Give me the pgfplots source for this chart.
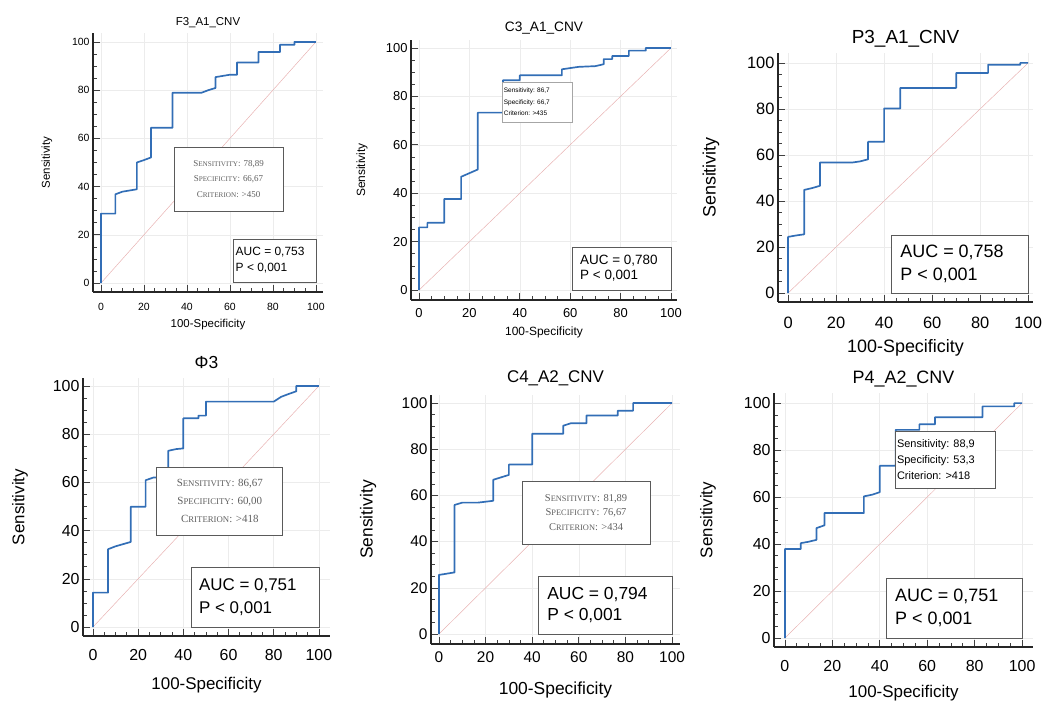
\documentclass[border=0pt]{standalone}
\usepackage{fontspec}
\setmainfont{Liberation Sans}
\newfontfamily\serif{Liberation Serif}
\usepackage{graphicx}
\usepackage{pgfplots}
\pgfplotsset{compat=1.18}
\definecolor{rocblue}{RGB}{50,110,182}
\definecolor{diagpink}{RGB}{232,178,178}
\definecolor{boxgray}{RGB}{90,90,90}
\newcommand\fsc[2]{#1\scalebox{0.8}{#2}}
\newcommand\fs[2]{\fontsize{#1}{#2}\selectfont}

\pgfplotsset{
  roc/.style={
    anchor=south west, scale only axis, clip=false,
    axis x line*=bottom, axis y line*=left,
    xtick={0,20,...,100}, ytick={0,20,...,100},
    minor tick num=3, tick align=inside,
    major tick length=7bp, minor tick length=4bp,
    grid=major, major grid style={gray!15, line width=0.6pt},
    axis line style={black!85, line width=1.2pt},
    tick style={black!75, line width=0.7pt},
    /pgf/number format/assume math mode=true,
    xlabel={100-Specificity}, ylabel={Sensitivity},
    title style={anchor=center, yshift=-6pt},
    xlabel style={anchor=center},
    ylabel style={anchor=center},
  },
  lbl/.style n args={3}{
    title style={at={(axis description cs:0.5,#1)}},
    xlabel style={at={(axis description cs:0.5,#2)}},
    ylabel style={at={(axis description cs:#3,0.5)}},
  },
  fnt/.style n args={3}{
    tick label style={font=\fs{#1}{#1}},
    label style={font=\fs{#2}{#2}},
    title style={font=\fs{#3}{#3}},
  },
  curve/.style={rocblue, line width=1.7pt, line join=round},
  diag/.style={diagpink, line width=0.5pt},
}
\tikzset{
  bx/.style={boxgray, line width=0.8pt, fill=white},
  crit/.style={gray!75!black, align=center, inner sep=0pt},
}

\begin{document}
\begin{tikzpicture}
\path[use as bounding box] (0,0) rectangle (1043bp,702bp);

% F3_A1_CNV
\begin{axis}[roc, at={(93bp,410bp)}, width=230bp, height=259bp,
  xmin=-3.7, xmax=103.3, ymin=-3.7, ymax=103.7,
  fnt={10.5}{11.5}{11.5}, lbl={1.039}{-0.127}{-0.2},
  xticklabel style={yshift=-8bp},
  title={F3\_A1\_CNV}]
\addplot[diag] coordinates {(0,0) (100,100)};
\addplot[curve] coordinates {(0,0)(0,28.8)(6.7,28.8)(6.7,36.8)(10,37.9)(16.7,38.9)(16.7,50)(20,51)(23.3,52.1)(23.3,64.4)(33.3,64.4)(33.3,78.9)(46.7,78.9)(50,80)(53.3,80.9)(53.3,85.4)(60,86.4)(63.3,86.4)(63.3,91.5)(73.3,91.5)(73.3,95.8)(83.3,95.8)(83.3,98.8)(90,98.8)(90,100)(100,100)};
\draw[bx] (axis cs:34,29.9) rectangle (axis cs:84.7,56.4);
\node[crit, font=\serif\fs{9}{15.5}] at (axis cs:59.35,43.15)
  {\fsc{S}{ENSITIVITY}: 78,89\\ \fsc{S}{PECIFICITY}: 66,67\\ \fsc{C}{RITERION}: >450};
\draw[bx] (axis cs:61.4,0.4) rectangle (axis cs:100,18.3);
\node[anchor=west, align=left, inner sep=0pt, font=\fs{12}{15.7}] at (axis cs:62.6,9.4)
  {AUC = 0,753\\P < 0,001};
\end{axis}

% C3_A1_CNV
\begin{axis}[roc, at={(411bp,402bp)}, width=266bp, height=260bp,
  xmin=-3.2, xmax=102.4, ymin=-4.1, ymax=103.3,
  fnt={13}{12}{13.7}, lbl={1.046}{-0.123}{-0.184},
  xticklabel style={yshift=-5bp},
  title={C3\_A1\_CNV}]
\addplot[diag] coordinates {(0,0) (100,100)};
\addplot[curve] coordinates {(0,0)(0,25.9)(3.3,25.9)(3.3,27.8)(10,27.8)(10,37.6)(16.7,37.6)(16.7,46.8)(23.3,49.8)(23.3,73.3)(33.3,73.3)(33.3,86.7)(40,86.7)(40,88.7)(56.7,88.7)(56.7,91.2)(63.3,92.2)(70,92.5)(73.3,93.3)(73.3,95.4)(76.7,95.4)(76.7,96.7)(83.3,96.7)(83.3,98.9)(90,98.9)(90,100)(100,100)};
\draw[bx, line width=0.5pt, draw=gray!70] (axis cs:33,69.4) rectangle (axis cs:61,86);
\node[anchor=west, align=left, inner sep=0pt, font=\fs{6.5}{11.7}] at (axis cs:33.6,77.7)
  {Sensitivity: 86,7\\Specificity: 66,7\\Criterion: >435};
\draw[bx] (axis cs:61,0) rectangle (axis cs:100,17.8);
\node[anchor=west, align=left, inner sep=0pt, font=\fs{13.5}{15}] at (axis cs:63.9,8.9)
  {AUC = 0,780\\P < 0,001};
\end{axis}

% P3_A1_CNV
\begin{axis}[roc, at={(778bp,400bp)}, width=255bp, height=249bp,
  xmin=-4.2, xmax=102, ymin=-3.9, ymax=104.3,
  fnt={16.5}{18}{19}, lbl={1.056}{-0.185}{-0.263},
  xticklabel style={yshift=-12bp},
  title={P3\_A1\_CNV}]
\addplot[diag] coordinates {(0,0) (100,100)};
\addplot[curve] coordinates {(0,0)(0,24.4)(3.3,25)(6.7,25.5)(6.7,44.8)(10,45.6)(13.3,46.6)(13.3,56.7)(26.7,56.7)(30,57.2)(33.3,58.1)(33.3,65.7)(40,65.7)(40,80.2)(46.7,80.2)(46.7,89.1)(70,89.1)(70,95.6)(83.3,95.6)(83.3,99.2)(96.7,99.2)(96.7,100)(100,100)};
\draw[bx] (axis cs:43,0) rectangle (axis cs:100,25.2);
\node[anchor=west, align=left, inner sep=0pt, font=\fs{18}{22.7}] at (axis cs:46.7,12.6)
  {AUC = 0,758\\P < 0,001};
\end{axis}

% Phi3
\begin{axis}[roc, at={(83bp,66bp)}, width=247bp, height=258bp,
  xmin=-4.4, xmax=104.9, ymin=-3.7, ymax=103.3,
  fnt={16}{17}{17.5}, lbl={1.062}{-0.19}{-0.255},
  xticklabel style={yshift=-10bp},
  title={Φ3}]
\addplot[diag] coordinates {(0,0) (100,100)};
\addplot[curve] coordinates {(0,0)(0,14.3)(6.7,14.3)(6.7,32.3)(10,33.5)(16.7,35.3)(16.7,49.9)(23.3,49.9)(23.3,60.9)(26.7,62)(30,62)(33.3,66)(33.3,73.1)(36.7,73.8)(40,74.1)(40,86.6)(46.7,86.6)(46.7,87.7)(50,87.7)(50,93.5)(80,93.5)(83.3,95.5)(86.7,96.7)(90,97.8)(90,100)(100,100)};
\draw[bx] (axis cs:28.3,38.2) rectangle (axis cs:84,66.4);
\node[crit, font=\serif\fs{11}{18}] at (axis cs:56.15,52.3)
  {\fsc{S}{ENSITIVITY}: 86,67\\ \fsc{S}{PECIFICITY}: 60,00\\ \fsc{C}{RITERION}: >418};
\draw[bx] (axis cs:43.4,0) rectangle (axis cs:100,24.9);
\node[anchor=west, align=left, inner sep=0pt, font=\fs{17}{23}] at (axis cs:46.9,12.45)
  {AUC = 0,751\\P < 0,001};
\end{axis}

% C4_A2_CNV
\begin{axis}[roc, at={(431bp,58bp)}, width=249bp, height=249bp,
  xmin=-3.4, xmax=103.4, ymin=-4.3, ymax=103.5,
  fnt={15.5}{17.5}{17}, lbl={1.068}{-0.185}{-0.253},
  xticklabel style={yshift=-4bp},
  title={C4\_A2\_CNV}]
\addplot[diag] coordinates {(0,0) (100,100)};
\addplot[curve] coordinates {(0,0)(0,25.6)(6.7,26.7)(6.7,55.9)(10,56.9)(16.7,56.9)(23.3,57.7)(23.3,66.8)(30,68.9)(30,73.4)(40,73.4)(40,86.7)(53.3,86.7)(53.3,90.2)(56.7,91.3)(63.3,91.3)(63.3,94.6)(76.7,94.6)(76.7,96.7)(83.3,96.7)(83.3,100)(100,100)};
\draw[bx] (axis cs:35.6,39) rectangle (axis cs:90.6,66.2);
\node[crit, font=\serif\fs{10.5}{15}] at (axis cs:63.1,52.6)
  {\fsc{S}{ENSITIVITY}: 81,89\\ \fsc{S}{PECIFICITY}: 76,67\\ \fsc{C}{RITERION}: >434};
\draw[bx] (axis cs:42.5,0) rectangle (axis cs:100,25);
\node[anchor=west, align=left, inner sep=0pt, font=\fs{17.5}{21.7}] at (axis cs:46.4,12.5)
  {AUC = 0,794\\P < 0,001};
\end{axis}

% P4_A2_CNV
\begin{axis}[roc, at={(774bp,55bp)}, width=259bp, height=254bp,
  xmin=-4.6, xmax=104.6, ymin=-3.8, ymax=104.3,
  fnt={16}{17}{18}, lbl={1.055}{-0.18}{-0.255},
  xticklabel style={yshift=-10bp},
  title={P4\_A2\_CNV}]
\addplot[diag] coordinates {(0,0) (100,100)};
\addplot[curve] coordinates {(0,0)(0,37.9)(6.7,37.9)(6.7,40.4)(10,41)(13.3,41.8)(13.3,46.8)(16.7,48)(16.7,53.2)(33.3,53.2)(33.3,60.3)(36.7,61)(40,62.1)(40,73.3)(46.7,73.3)(46.7,88.6)(56.7,88.6)(56.7,91)(63.3,91)(63.3,94)(83.3,94)(83.3,98.6)(96.7,98.6)(96.7,100)(100,100)};
\draw[bx] (axis cs:46.4,63.8) rectangle (axis cs:88.6,88);
\node[anchor=west, align=left, inner sep=0pt, font=\fs{11}{16}] at (axis cs:47.2,75.9)
  {Sensitivity: 88,9\\Specificity: 53,3\\Criterion: >418};
\draw[bx] (axis cs:42.6,0) rectangle (axis cs:100,25.5);
\node[anchor=west, align=left, inner sep=0pt, font=\fs{18}{23}] at (axis cs:46.4,12.75)
  {AUC = 0,751\\P < 0,001};
\end{axis}
\end{tikzpicture}
\end{document}
